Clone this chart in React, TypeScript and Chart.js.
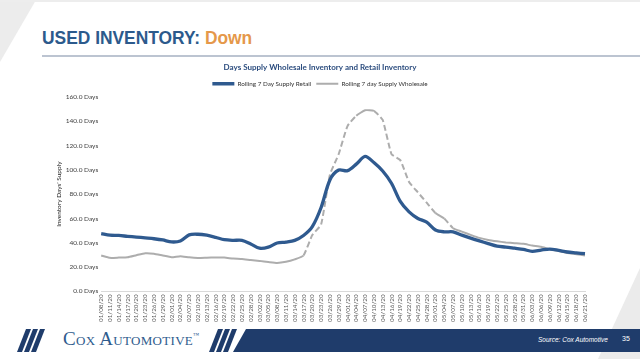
import React, { useEffect, useRef } from "react";
import { Chart, registerables } from "chart.js";

Chart.register(...registerables);

const dateLabels = [
  "01/08/20", "01/11/20", "01/14/20", "01/17/20", "01/20/20", "01/23/20", "01/26/20", "01/29/20",
  "02/01/20", "02/04/20", "02/07/20", "02/10/20", "02/13/20", "02/16/20", "02/19/20", "02/22/20", "02/25/20", "02/28/20",
  "03/02/20", "03/05/20", "03/08/20", "03/11/20", "03/14/20", "03/17/20", "03/20/20", "03/23/20", "03/26/20", "03/29/20",
  "04/01/20", "04/04/20", "04/07/20", "04/10/20", "04/13/20", "04/16/20", "04/19/20", "04/22/20", "04/25/20", "04/28/20",
  "05/01/20", "05/04/20", "05/07/20", "05/10/20", "05/13/20", "05/16/20", "05/19/20", "05/22/20", "05/25/20", "05/28/20", "05/31/20",
  "06/03/20", "06/06/20", "06/09/20", "06/12/20", "06/15/20", "06/18/20", "06/21/20",
];

const retailDays = [
  47.5, 46.2, 46.0, 45.3, 44.7, 44.0, 43.3, 42.3, 40.7, 41.5,
  46.5, 47.0, 46.2, 44.5, 42.5, 42.0, 42.0, 39.0, 35.5, 36.4,
  39.8, 40.6, 42.0, 46.0, 53.3, 69.0, 91.7, 99.8, 99.3, 104.7,
  111.0, 106.0, 99.0, 89.0, 74.0, 65.4, 60.0, 57.0, 50.5, 49.0,
  49.0, 46.3, 43.8, 41.5, 39.3, 37.2, 36.5, 35.5, 34.5, 33.0,
  34.0, 34.8, 33.7, 32.4, 31.7, 31.0,
];

const wholesaleDays = [
  29.5, 27.6, 27.8, 28.1, 29.8, 31.4, 31.0, 29.5, 28.1, 29.0,
  28.0, 27.5, 27.7, 27.9, 27.8, 27.0, 26.6, 25.8, 25.1, 24.2,
  23.4, 24.3, 26.3, 29.5, 46.3, 55.0, 96.0, 113.0, 136.0, 144.5,
  149.0, 148.5, 141.0, 113.0, 108.0, 90.0, 81.5, 73.0, 64.5, 60.0,
  52.0, 49.2, 46.5, 44.0, 42.3, 41.2, 40.3, 39.7, 39.1, 37.7,
  36.7, 34.7, 33.3, 31.5, 30.6, 29.5,
];

const chartTitle = "Days Supply Wholesale Inventory and Retail Inventory";
const retailName = "Rolling 7 Day Supply Retail";
const wholesaleName = "Rolling 7 day Supply Wholesale";
const yAxisTitle = "Inventory Days' Supply";

const FONT = "Lato, 'Open Sans', 'Liberation Sans', sans-serif";

export default function App() {
  const canvasRef = useRef<HTMLCanvasElement | null>(null);

  useEffect(() => {
    const canvas = canvasRef.current;
    if (!canvas) return;
    const chart = new Chart(canvas, {
      type: "line",
      data: {
        labels: dateLabels,
        datasets: [
          {
            label: retailName,
            data: retailDays,
            borderColor: "#2F5A8F",
            backgroundColor: "#2F5A8F",
            borderWidth: 3.3,
            pointRadius: 0,
            tension: 0.3,
            fill: false,
          },
          {
            label: wholesaleName,
            data: wholesaleDays,
            borderColor: "#ADADAD",
            backgroundColor: "#ADADAD",
            borderWidth: 2,
            borderDash: [6, 3],
            pointRadius: 0,
            tension: 0.15,
            fill: false,
            segment: {
              borderDash: (ctx: any) =>
                Math.abs(ctx.p1.y - ctx.p0.y) > 6 ? [6, 3] : [],
            },
          },
        ],
      },
      options: {
        animation: false,
        responsive: false,
        maintainAspectRatio: false,
        layout: { padding: { left: 0, right: 15, top: 0, bottom: 0 } },
        plugins: {
          title: {
            display: true,
            text: chartTitle,
            color: "#2B4C7E",
            font: { family: FONT, size: 8, weight: "bold" },
            padding: { top: 5, bottom: 3 },
          },
          legend: {
            display: true,
            position: "top",
            labels: {
              usePointStyle: true,
              pointStyle: "line",
              pointStyleWidth: 22,
              boxHeight: 6,
              color: "#333333",
              font: { family: FONT, size: 6.3 },
              padding: 5,
            },
          },
          tooltip: { enabled: false },
        },
        scales: {
          x: {
            offset: false,
            grid: { display: false, drawTicks: false },
            border: { display: true, color: "#D9D9D9", width: 1 },
            ticks: {
              autoSkip: false,
              maxRotation: 90,
              minRotation: 90,
              color: "#595959",
              font: { family: FONT, size: 6.3 },
              padding: 3,
            },
          },
          y: {
            min: 0,
            max: 160,
            grid: { display: false, drawTicks: false },
            border: { display: false },
            ticks: {
              stepSize: 20,
              color: "#404040",
              font: { family: FONT, size: 6.5 },
              padding: 3,
              callback: (v: any) => Number(v).toFixed(1) + " Days",
            },
            title: {
              display: true,
              text: yAxisTitle,
              color: "#222222",
              font: { family: FONT, size: 6.5 },
              padding: { top: 0, bottom: 0 },
            },
          },
        },
      },
    });
    return () => chart.destroy();
  }, []);

  return (
    <div
      style={{
        position: "fixed",
        left: 0,
        top: 0,
        width: 640,
        height: 359,
        background: "#FFFFFF",
        overflow: "hidden",
      }}
    >
      <svg
        width={640}
        height={359}
        style={{ position: "absolute", left: 0, top: 0 }}
      >
        <polygon points="0,0 36,0 0,62" fill="#ECECEC" />
        <line x1={0} y1={1} x2={640} y2={1} stroke="#EDEDED" strokeWidth={2} />
        <line x1={42} y1={56} x2={640} y2={56} stroke="#A6B0C2" strokeWidth={1.5} />
        <polygon points="640,268 640,359 598,359" fill="#EBEBEB" />
        <polygon points="246,329 640,329 640,352 233,352" fill="#1F3C6B" />
        <polygon points="26,329 31,329 22,352 17,352" fill="#1F3C6B" />
        <polygon points="33,329 38,329 29,352 24,352" fill="#1F3C6B" />
        <polygon points="40,329 45,329 36,352 31,352" fill="#1F3C6B" />
        <polygon points="218,329 223,329 214,352 209,352" fill="#1F3C6B" />
        <polygon points="225,329 230,329 221,352 216,352" fill="#1F3C6B" />
        <polygon points="232,329 237,329 228,352 223,352" fill="#1F3C6B" />
      </svg>
      <div
        style={{
          position: "absolute",
          left: 42,
          top: 27,
          fontFamily: "'Liberation Sans', Arial, sans-serif",
          fontWeight: "bold",
          fontSize: 19,
          color: "#2C5A8C",
          whiteSpace: "nowrap",
          lineHeight: "normal",
          transform: "scaleX(0.915)",
          transformOrigin: "left top",
        }}
      >
        USED INVENTORY: <span style={{ color: "#E5984A" }}>Down</span>
      </div>
      <canvas
        ref={canvasRef}
        width={545}
        height={267}
        style={{ position: "absolute", left: 55, top: 58, width: 545, height: 267 }}
      />
      <div
        style={{
          position: "absolute",
          left: 63,
          top: 328,
          fontFamily: "'Liberation Serif', 'DejaVu Serif', serif",
          fontVariant: "small-caps",
          fontSize: 19,
          color: "#2F5C8E",
          whiteSpace: "nowrap",
          lineHeight: "normal",
          letterSpacing: 0.3,
        }}
      >
        Cox Automotive<sup style={{ fontSize: 6, verticalAlign: "top", position: "relative", top: 4 }}>™</sup>
      </div>
      <div
        style={{
          position: "absolute",
          left: 538,
          top: 336,
          fontFamily: "'Liberation Sans', Arial, sans-serif",
          fontStyle: "italic",
          fontSize: 6.5,
          color: "#FFFFFF",
          whiteSpace: "nowrap",
        }}
      >
        Source: Cox Automotive
      </div>
      <div
        style={{
          position: "absolute",
          left: 622,
          top: 335,
          fontFamily: "'Liberation Sans', Arial, sans-serif",
          fontSize: 7,
          color: "#FFFFFF",
          whiteSpace: "nowrap",
        }}
      >
        35
      </div>
    </div>
  );
}
